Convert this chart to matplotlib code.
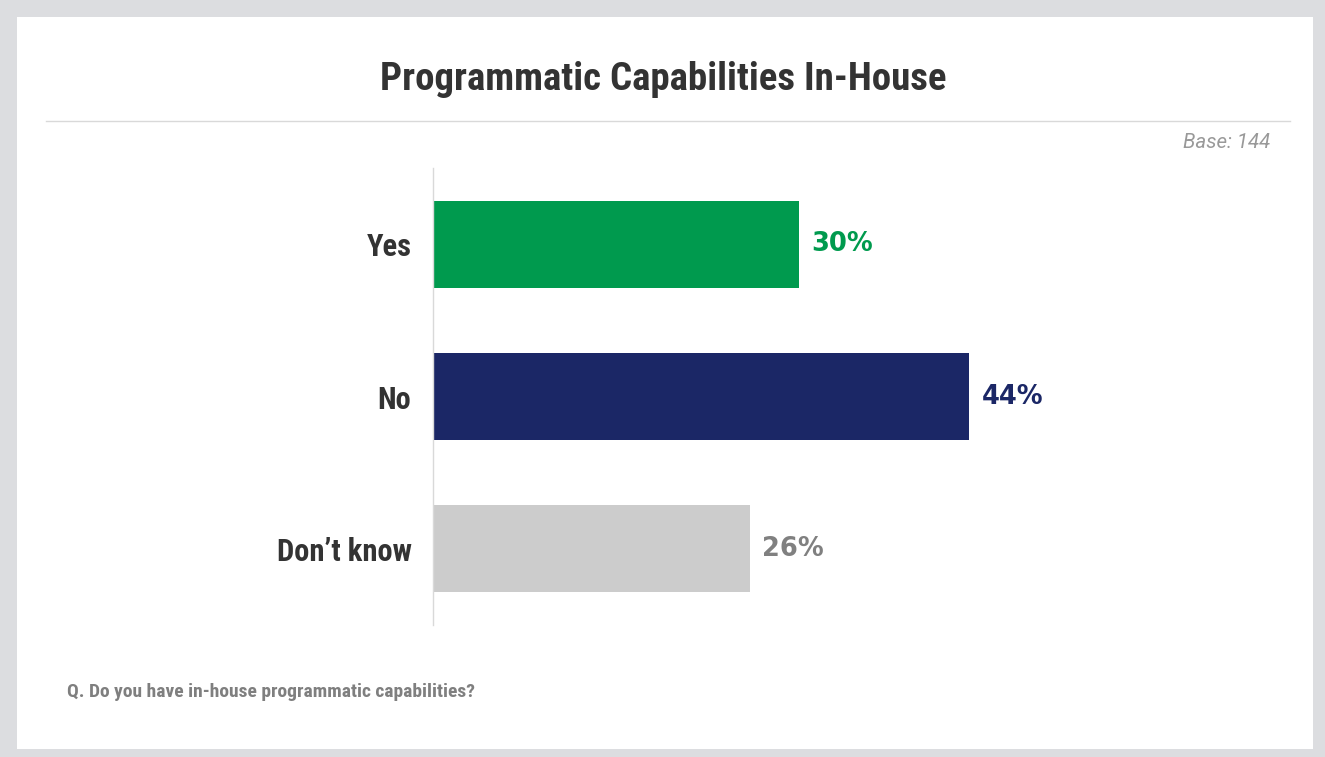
import matplotlib
matplotlib.use("Agg")
import matplotlib.pyplot as plt
from matplotlib.patches import Rectangle
from matplotlib.lines import Line2D
from matplotlib import font_manager as fm

categories = ["Yes", "No", "Don\u2019t know"]
values = [30, 44, 26]
bar_colors = ["#009a4e", "#1b2766", "#cccccc"]
label_colors = ["#009a4e", "#1b2766", "#808080"]
title = "Programmatic Capabilities In-House"
base_text = "Base: 144"
question = "Q. Do you have in-house programmatic capabilities?"

names = {f.name for f in fm.fontManager.ttflist}
cond = None
for cand in ["Liberation Sans Narrow", "Roboto Condensed", "Open Sans Condensed", "Lato", "Roboto"]:
    if cand in names:
        cond = cand
        break
if cond is None:
    cond = "DejaVu Sans"
wide = "DejaVu Sans"
ital = "Roboto" if "Roboto" in names else "DejaVu Sans"

W, H = 1325, 757
fig = plt.figure(figsize=(W / 100, H / 100), dpi=100)
fig.patch.set_facecolor("#dcdde0")

def fx(x): return x / W
def fy(y): return 1 - y / H

fig.patches.append(Rectangle((fx(17), fy(749)), fx(1313) - fx(17), fy(17) - fy(749),
                             transform=fig.transFigure, facecolor="white", edgecolor="none", zorder=-10))
fig.lines.append(Line2D([fx(46), fx(1290)], [fy(121), fy(121)], transform=fig.transFigure,
                        color="#d9d9d9", lw=1, zorder=-5))

fig.text(fx(663), fy(79), title, ha="center", va="center", fontsize=28, fontweight="bold",
         family=cond, color="#333333")
fig.text(fx(1270), fy(143), base_text, ha="right", va="center", fontsize=14.8, style="italic",
         family=ital, color="#999999")
fig.text(fx(67), fy(692), question, ha="left", va="center", fontsize=14, fontweight="bold",
         family=cond, color="#7f7f7f")

left, right = 433, 433 + 12.19 * 60
top, bottom = 168, 625
ax = fig.add_axes([fx(left), fy(bottom), fx(right) - fx(left), fy(top) - fy(bottom)], zorder=5)
ax.set_facecolor("none")
ypos = list(range(len(categories)))
ax.barh(ypos, values, height=0.572, color=bar_colors, zorder=2)
ax.set_xlim(0, 60)
ax.set_ylim(2.503, -0.503)
for s in ["top", "right", "bottom"]:
    ax.spines[s].set_visible(False)
ax.spines["left"].set_color("#d9d9d9")
ax.spines["left"].set_linewidth(1)
ax.set_xticks([])
ax.set_yticks(ypos)
ax.set_yticklabels(categories, fontsize=22, fontweight="bold", family=cond, color="#333333")
ax.tick_params(axis="y", length=0, pad=15.5)
for y, v, c in zip(ypos, values, label_colors):
    ax.text(v + 1.0, y, f"{v}%", ha="left", va="center", fontsize=18.5, fontweight="bold",
            family=wide, color=c)

fig.savefig("out.png", dpi=100, facecolor=fig.get_facecolor())
